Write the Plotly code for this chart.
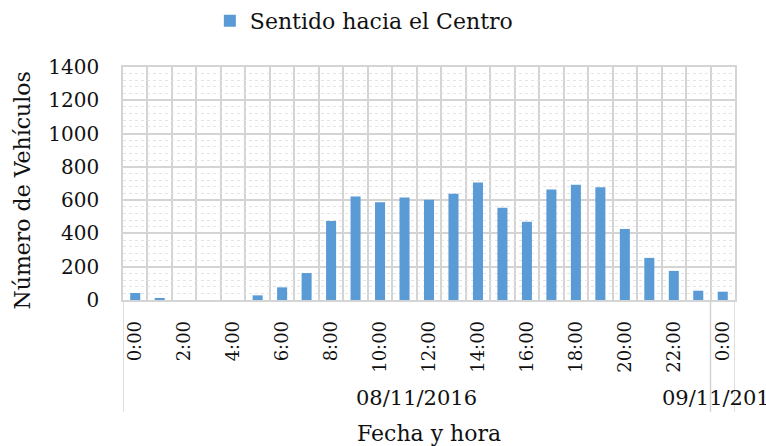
import plotly.graph_objects as go

hours = ["0:00", "1:00", "2:00", "3:00", "4:00", "5:00", "6:00", "7:00", "8:00", "9:00",
         "10:00", "11:00", "12:00", "13:00", "14:00", "15:00", "16:00", "17:00", "18:00",
         "19:00", "20:00", "21:00", "22:00", "23:00", "0:00"]
dates = ["08/11/2016"] * 24 + ["09/11/2016"]
vehicles = [42, 8, 0, 0, 0, 28, 76, 162, 475, 622, 588, 616, 602, 638, 706, 554, 470,
            664, 692, 678, 427, 253, 175, 56, 50]
series_name = "Sentido hacia el Centro"
y_ticks = [0, 200, 400, 600, 800, 1000, 1200, 1400]

FONT = "DejaVu Serif"
GRID = "#d4d4d4"

pos = list(range(len(hours)))
tick_pos = pos[::2]
tick_txt = hours[::2]

fig = go.Figure()
fig.add_trace(go.Bar(x=pos, y=vehicles, name=series_name, width=0.41,
                     marker=dict(color="#5B9BD5", line=dict(width=0)),
                     hovertext=[d + " " + h for d, h in zip(dates, hours)]))

fig.update_layout(
    width=766, height=446,
    margin=dict(l=123, r=31, t=67, b=146, autoexpand=False),
    paper_bgcolor="white", plot_bgcolor="white",
    font=dict(family=FONT, size=20, color="#111111"),
    showlegend=True,
    legend=dict(orientation="h", xref="container", yref="container",
                x=0.475, xanchor="center", y=1.0, yanchor="top",
                font=dict(size=22), itemwidth=30),
    bargap=0.5,
)

fig.update_xaxes(
    range=[-0.5, len(hours) - 0.5], tickmode="array", tickvals=tick_pos, ticktext=tick_txt,
    tickangle=-90, tickfont=dict(size=18), showgrid=False, ticks="", zeroline=False,
    automargin=False, ticklabelstandoff=12,
    showline=True, linecolor=GRID, linewidth=1.5, mirror=True,
    minor=dict(tickmode="linear", tick0=-0.5, dtick=1, showgrid=True, gridcolor=GRID, gridwidth=1.5),
)
fig.update_yaxes(
    range=[0, 1400], tickmode="array", tickvals=y_ticks, tickfont=dict(size=20),
    showgrid=True, gridcolor=GRID, gridwidth=1.5, zeroline=False, ticks="",
    automargin=False, ticklabelstandoff=18,
    showline=True, linecolor=GRID, linewidth=1.5, mirror=True,
    minor=dict(dtick=40, showgrid=True, gridcolor="#e3e3e3", griddash="dot", gridwidth=1),
)

# multi-level category separators
for xv in [-0.5, 23.5, 24.5]:
    fig.add_shape(type="line", xref="x", yref="paper", x0=xv, x1=xv, y0=0, y1=-0.48,
                  line=dict(color=GRID, width=1.5))

fig.add_annotation(x=11.5, xref="x", y=-0.42, yref="paper", text=dates[0], showarrow=False,
                   font=dict(size=21), yanchor="middle", xanchor="center")
fig.add_annotation(x=24, xref="x", y=-0.42, yref="paper", text=dates[-1], showarrow=False,
                   font=dict(size=21), yanchor="middle", xanchor="center")
fig.add_annotation(x=0.5, xref="paper", y=-0.572, yref="paper", text="Fecha y hora",
                   showarrow=False, font=dict(size=22), yanchor="middle", xanchor="center")
fig.add_annotation(x=-0.165, xref="paper", y=0.47, yref="paper", text="Número de Vehículos",
                   showarrow=False, font=dict(size=22), textangle=-90,
                   yanchor="middle", xanchor="center")

fig.write_html("out.html", config={"displayModeBar": False},
               post_script="document.body.style.margin='0';")
